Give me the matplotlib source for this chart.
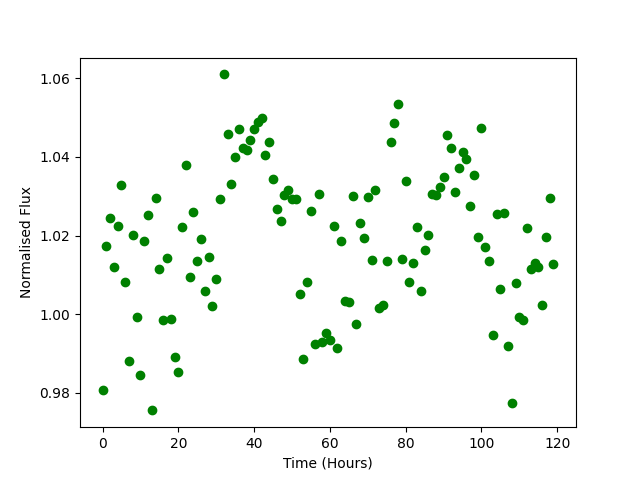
import matplotlib
matplotlib.use('Agg')
import matplotlib.pyplot as plt

# time in hours, one sample per hour
time = list(range(120))
flux = [
    0.9808, 1.0173, 1.0244, 1.0119, 1.0224, 1.0328, 1.0081, 0.9881, 1.0201, 0.9992,
    0.9844, 1.0185, 1.0252, 0.9755, 1.0295, 1.0114, 0.9984, 1.0142, 0.9987, 0.9890,
    0.9852, 1.0221, 1.0379, 1.0094, 1.0259, 1.0134, 1.0190, 1.0058, 1.0145, 1.0020,
    1.0089, 1.0292, 1.0610, 1.0458, 1.0330, 1.0399, 1.0470, 1.0422, 1.0417, 1.0442,
    1.0470, 1.0488, 1.0498, 1.0404, 1.0437, 1.0343, 1.0267, 1.0236, 1.0302, 1.0315,
    1.0292, 1.0292, 1.0050, 0.9885, 1.0083, 1.0262, 0.9923, 1.0305, 0.9928, 0.9951,
    0.9933, 1.0224, 0.9913, 1.0185, 1.0033, 1.0030, 1.0300, 0.9974, 1.0231, 1.0193,
    1.0297, 1.0137, 1.0315, 1.0015, 1.0022, 1.0134, 1.0437, 1.0486, 1.0534, 1.0139,
    1.0340, 1.0081, 1.0129, 1.0221, 1.0058, 1.0162, 1.0201, 1.0305, 1.0302, 1.0323,
    1.0348, 1.0455, 1.0422, 1.0310, 1.0371, 1.0412, 1.0394, 1.0274, 1.0353, 1.0195,
    1.0473, 1.0170, 1.0134, 0.9946, 1.0254, 1.0063, 1.0257, 0.9918, 0.9773, 1.0078,
    0.9992, 0.9984, 1.0218, 1.0114, 1.0129, 1.0121, 1.0022, 1.0195, 1.0295, 1.0127,
]

plt.figure(figsize=(6.4, 4.8), dpi=100)
plt.plot(time, flux, 'go')
plt.xlabel('Time (Hours)')
plt.ylabel('Normalised Flux')
plt.savefig('out.png')
